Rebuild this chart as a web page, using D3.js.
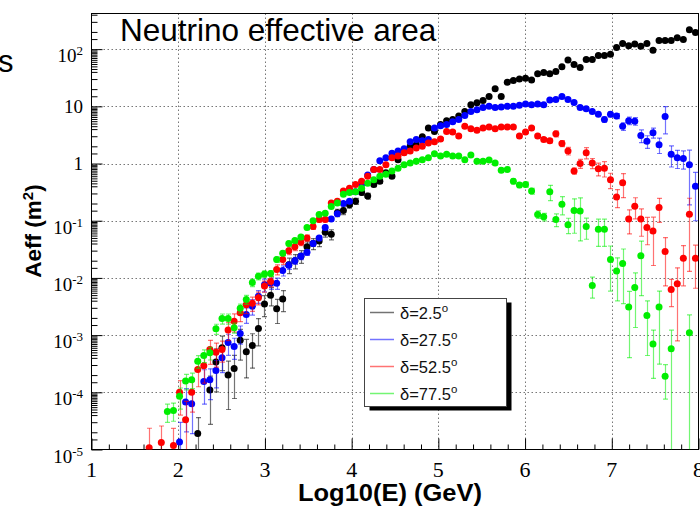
<!DOCTYPE html>
<html><head><meta charset="utf-8">
<script src="https://cdn.jsdelivr.net/npm/d3@7"></script>
<style>body{margin:0;background:#fff;} svg{display:block;}</style>
</head><body>
<svg id="c" width="700" height="506"></svg>
<script>
// ---------- DATA ----------
const logE = [1.665,1.735,1.805,1.875,1.945,2.015,2.085,2.155,2.225,2.295,
 2.365,2.435,2.505,2.575,2.645,2.715,2.785,2.855,2.925,2.995,
 3.065,3.135,3.205,3.275,3.345,3.415,3.485,3.555,3.625,3.695,
 3.765,3.835,3.905,3.975,4.045,4.115,4.185,4.255,4.325,4.395,
 4.465,4.535,4.605,4.675,4.745,4.815,4.885,4.955,5.025,5.095,
 5.165,5.235,5.305,5.375,5.445,5.515,5.585,5.655,5.725,5.795,
 5.865,5.935,6.005,6.075,6.145,6.215,6.285,6.355,6.425,6.495,
 6.565,6.635,6.705,6.775,6.845,6.915,6.985,7.055,7.125,7.195,
 7.265,7.335,7.405,7.475,7.545,7.615,7.685,7.755,7.825,7.895,
 7.965];

const aeffDec2_5 = [null,null,null,null,null,null,null,null,1.9e-5,null,
 1.1e-4,3.4e-4,6.0e-4,2.0e-4,2.6e-4,8.1e-4,5.1e-4,6.6e-4,1.3e-3,3.5e-3,
 5.0e-3,2.9e-3,4.3e-3,1.7e-2,2.0e-2,2.4e-2,3.5e-2,4.0e-2,4.4e-2,6.3e-2,
 5.8e-2,0.138,0.151,0.19,0.22,0.31,0.27,0.43,0.49,0.69,
 0.60,1.17,1.58,2.0,2.14,2.95,4.17,3.63,4.79,5.62,
 5.89,6.76,8.13,10.7,11.5,12.6,14.8,20.4,14.8,26.3,
 28.2,30.2,30.9,28.8,37.2,38.9,37.2,40.7,49.0,64.6,
 53.7,47.9,66.1,66.1,77.6,77.6,81.3,107,126,115,
 123,112,126,95.5,141,141,141,158,148,219,
 195];
const errDec2_5 = [null,null,null,null,null,null,null,null,0.9,null,
 0.75,0.7,0.6,0.75,0.7,0.55,0.65,0.6,0.5,0.4,
 0.35,0.45,0.4,0.3,0.28,0.25,0.22,0.22,0.2,0.18,
 0.2,0.15,0.15,0.13,0.12,0.1,0.12,0.08,0.08,0.06,
 0.07,0.05,0.05,0.05,0.04,0.04,0.04,0.04,0.04,0.04,
 0.03,0.03,0.03,0.03,0.03,0.03,0.03,0.03,0.03,0.03,
 0.03,0.03,0.03,0.03,0.03,0.03,0.03,0.03,0.03,0.03,
 0.03,0.03,0.03,0.03,0.03,0.03,0.03,0.03,0.03,0.03,
 0.03,0.03,0.03,0.03,0.03,0.03,0.03,0.03,0.03,0.03,
 0.03];

const aeffDec27_5 = [null,null,null,null,null,1.35e-5,6.8e-5,6.3e-5,null,1.55e-4,
 1.66e-4,2.4e-4,4.0e-4,7.4e-4,6.3e-4,1.07e-3,2.3e-3,3.2e-3,4.8e-3,7.6e-3,
 8.1e-3,8.1e-3,1.35e-2,1.66e-2,2.0e-2,2.4e-2,2.8e-2,4.0e-2,5.0e-2,7.6e-2,
 0.107,0.132,0.20,0.22,0.32,0.44,0.63,0.79,1.12,1.26,
 1.51,1.66,1.82,2.40,2.63,2.51,2.63,4.17,4.57,4.79,
 5.37,5.89,6.92,8.13,8.71,9.55,10.0,9.55,9.77,10.0,
 10.0,10.5,11.0,10.7,11.0,10.7,12.9,13.2,14.8,13.2,
 11.7,9.55,9.12,8.13,7.24,5.89,7.24,6.76,4.47,5.62,
 5.50,3.09,2.45,3.47,2.14,6.61,1.45,1.26,1.23,0.95,
 0.40];
const errDec27_5 = [null,null,null,null,null,1.2,0.7,0.7,null,0.6,
 0.55,0.5,0.45,0.4,0.4,0.35,0.3,0.3,0.25,0.25,
 0.22,0.22,0.2,0.15,0.14,0.13,0.12,0.11,0.1,0.09,
 0.08,0.08,0.05,0.05,0.05,0.05,0.05,0.05,0.05,0.05,
 0.05,0.05,0.05,0.05,0.05,0.05,0.05,0.05,0.05,0.05,
 0.05,0.05,0.04,0.04,0.04,0.04,0.04,0.04,0.04,0.04,
 0.04,0.04,0.04,0.04,0.04,0.04,0.04,0.04,0.04,0.04,
 0.04,0.04,0.04,0.04,0.08,0.1,0.1,0.1,0.15,0.15,
 0.15,0.25,0.25,0.2,0.3,0.5,0.4,0.35,0.35,0.8,
 0.75];

const aeffDec52_5 = [1.07e-5,null,1.32e-5,null,1.17e-5,1.0e-4,3.3e-5,1.0e-4,2.5e-4,2.9e-4,
 5.6e-4,5.0e-4,5.6e-4,1.23e-3,1.74e-3,2.45e-3,3.4e-3,3.6e-3,4.5e-3,7.2e-3,
 8.7e-3,1.41e-2,2.1e-2,3.0e-2,3.5e-2,4.2e-2,5.0e-2,7.9e-2,0.105,0.105,
 0.204,0.22,0.33,0.37,0.43,0.49,0.60,0.79,0.79,0.95,
 1.26,1.35,1.55,1.66,1.86,2.0,2.29,2.40,2.69,3.63,
 3.55,3.02,4.47,4.07,3.80,4.17,4.37,4.07,4.37,4.37,
 4.37,3.02,3.55,4.17,3.02,2.63,2.51,3.31,2.24,1.66,
 0.74,1.0,1.55,1.02,0.81,0.83,0.52,0.26,0.46,0.107,
 0.18,0.107,0.076,0.066,0.17,0.029,0.0063,0.0079,0.022,0.13,
 0.022];
const errDec52_5 = [1.2,null,0.95,null,1.0,0.6,1.1,0.55,0.5,0.5,
 0.45,0.45,0.4,0.35,0.35,0.3,0.3,0.28,0.25,0.22,
 0.2,0.2,0.18,0.15,0.14,0.13,0.12,0.11,0.1,0.09,
 0.08,0.08,0.05,0.05,0.05,0.05,0.05,0.05,0.05,0.05,
 0.05,0.05,0.05,0.05,0.05,0.05,0.05,0.05,0.05,0.05,
 0.05,0.05,0.04,0.04,0.04,0.04,0.04,0.04,0.04,0.04,
 0.04,0.04,0.04,0.04,0.06,0.08,0.08,0.12,0.12,0.15,
 0.12,0.18,0.22,0.2,0.25,0.3,0.3,0.35,0.45,0.45,
 0.4,0.5,0.5,0.75,0.45,0.75,0.5,0.9,0.67,0.9,
 0.7];

const aeffDec77_5 = [null,null,null,4.6e-5,4.8e-5,8.5e-5,1.58e-4,1.66e-4,3.5e-4,4.4e-4,
 4.9e-4,1.29e-3,1.95e-3,1.95e-3,1.35e-3,2.95e-3,4.2e-3,8.3e-3,1.07e-2,1.17e-2,
 1.2e-2,2.1e-2,2.7e-2,4.0e-2,4.5e-2,5.2e-2,7.6e-2,0.10,0.129,0.135,
 0.178,0.204,0.29,0.31,0.32,0.37,0.45,0.52,0.60,0.65,
 0.74,0.83,0.95,1.02,1.10,1.17,1.26,1.48,1.35,1.45,
 1.35,1.35,1.17,1.41,1.10,1.10,1.15,1.02,0.76,0.79,
 0.49,0.42,0.43,0.33,0.129,0.117,0.32,0.105,0.195,0.085,
 0.151,0.148,0.079,0.0074,0.071,0.071,0.021,0.0132,0.0178,0.0031,
 0.0068,0.0245,0.0022,0.0007,0.0031,0.00019,0.00058,null,null,0.0011,
 null];
const errDec77_5 = [null,null,null,0.35,0.35,0.4,0.3,0.3,0.25,0.25,
 0.25,0.2,0.2,0.2,0.2,0.18,0.18,0.15,0.14,0.13,
 0.12,0.11,0.1,0.09,0.09,0.08,0.08,0.05,0.05,0.05,
 0.05,0.05,0.05,0.05,0.05,0.05,0.05,0.05,0.05,0.05,
 0.05,0.05,0.04,0.04,0.04,0.04,0.04,0.04,0.04,0.04,
 0.04,0.04,0.04,0.04,0.04,0.04,0.04,0.04,0.08,0.08,
 0.1,0.1,0.1,0.12,0.15,0.15,0.3,0.25,0.35,0.3,
 0.6,0.7,0.4,0.4,0.5,0.5,0.72,0.7,0.8,0.87,
 0.8,0.8,0.8,0.75,0.9,0.6,1.1,null,null,1.05,
 null];

const seriesLabels = ["δ=2.5","δ=27.5","δ=52.5","δ=77.5"];
const seriesValues = [aeffDec2_5, aeffDec27_5, aeffDec52_5, aeffDec77_5];
const seriesErrors = [errDec2_5, errDec27_5, errDec52_5, errDec77_5];
const seriesColors = ["#000000","#0000ff","#ff0000","#00ee00"];

const xTicks = [1,2,3,4,5,6,7,8];
const yTicks = [1e-5,1e-4,1e-3,1e-2,1e-1,1,10,100];
const yTickLabels = [["10","-5"],["10","-4"],["10","-3"],["10","-2"],["10","-1"],["1",""],["10",""],["10","2"]];
const xDomain = [1, 8];
const yDomain = [1e-5, 420];

// ---------- LAYOUT ----------
const X0 = 91.5, X1 = 698.5, Y0 = 449.5, Y1 = 13.5;
const svg = d3.select("#c");
const x = d3.scaleLinear().domain(xDomain).range([X0, X1]);
const y = d3.scaleLog().domain(yDomain).range([Y0, Y1]);
const SANS = "'Liberation Sans', Arial, Helvetica, sans-serif";
const SERIF = "'Liberation Serif', 'Times New Roman', serif";

svg.append("rect").attr("width",700).attr("height",506).attr("fill","#fff");

svg.append("defs").append("clipPath").attr("id","clip")
  .append("rect").attr("x",X0).attr("y",Y1).attr("width",X1-X0).attr("height",Y0-Y1);

// grid
const grid = svg.append("g").attr("stroke","#777").attr("stroke-width",1).attr("stroke-dasharray","1.5,2.5");
grid.selectAll("line.gx").data(xTicks.slice(1,-1)).join("line")
  .attr("x1",d=>Math.round(x(d))+0.5).attr("x2",d=>Math.round(x(d))+0.5).attr("y1",Y1).attr("y2",Y0);
grid.selectAll("line.gy").data(yTicks.slice(1)).join("line")
  .attr("y1",d=>Math.round(y(d))+0.5).attr("y2",d=>Math.round(y(d))+0.5).attr("x1",X0).attr("x2",X1);

// ticks (inward, ROOT style)
const yMinor = [];
yTicks.concat([1000]).forEach(dec=>{
  [1.5,2,3,4,4.5,5,5.5,6,6.5,7,7.5,8,8.5,9,9.5].forEach(k=>{
    const v = dec*k; if (v < yDomain[1]) yMinor.push(v);
  });
});
const xMinor = [];
for (let a = 1; a < 8; a++) [0.2,0.4,0.6,0.8].forEach(f=>xMinor.push(a+f));

function styleAxis(g){ g.select(".domain").remove(); g.selectAll("line").attr("stroke","#000"); }
svg.append("g").attr("transform",`translate(${X0},0)`)
  .call(d3.axisRight(y).tickValues(yTicks).tickSize(11).tickFormat(""))
  .call(styleAxis);
svg.append("g").attr("transform",`translate(${X0},0)`)
  .call(d3.axisRight(y).tickValues(yMinor).tickSize(6).tickFormat(""))
  .call(styleAxis);
svg.append("g").attr("transform",`translate(0,${Y0})`)
  .call(d3.axisTop(x).tickValues(xTicks).tickSize(11).tickFormat(""))
  .call(styleAxis);
svg.append("g").attr("transform",`translate(0,${Y0})`)
  .call(d3.axisTop(x).tickValues(xMinor).tickSize(5).tickFormat(""))
  .call(styleAxis);

// frame
svg.append("rect").attr("x",X0).attr("y",Y1).attr("width",X1-X0).attr("height",Y0-Y1)
  .attr("fill","none").attr("stroke","#000").attr("stroke-width",1);

// y tick labels
yTicks.forEach((v,k)=>{
  const [base, ex] = yTickLabels[k];
  const t = svg.append("text").attr("x",83).attr("y", y(v) + (ex ? 13 : 6.5))
    .attr("text-anchor","end").attr("font-family",SERIF).attr("font-size",19).attr("fill","#000");
  t.append("tspan").text(base);
  if (ex) t.append("tspan").attr("dy",-7).attr("font-size",13).text(ex);
});
// x tick labels
svg.selectAll("text.xl").data(xTicks).join("text")
  .attr("x",d=>x(d)).attr("y",477).attr("text-anchor","middle")
  .attr("font-family",SERIF).attr("font-size",22).attr("fill","#000").text(d=>d);

// axis titles
svg.append("text").attr("x",390).attr("y",501).attr("text-anchor","middle")
  .attr("font-family",SANS).attr("font-weight","bold").attr("font-size",23)
  .attr("textLength",184).attr("lengthAdjust","spacingAndGlyphs").text("Log10(E) (GeV)");
const yl = svg.append("text").attr("transform","translate(41,231) rotate(-90)").attr("text-anchor","middle")
  .attr("font-family",SANS).attr("font-weight","bold").attr("font-size",22.5);
yl.append("tspan").text("Aeff (m");
yl.append("tspan").attr("dy",-8).attr("font-size",15).text("2");
yl.append("tspan").attr("dy",8).text(")");

// title and stray text
svg.append("text").attr("x",120).attr("y",41).attr("font-family",SANS).attr("font-size",31.5).text("Neutrino effective area");
svg.append("text").attr("x",-2).attr("y",72).attr("font-family",SANS).attr("font-size",31).text("s");

// data
const plot = svg.append("g").attr("clip-path","url(#clip)");
seriesValues.forEach((vals, s)=>{
  const pts = [];
  vals.forEach((v,j)=>{ if (v != null) pts.push({x: logE[j], y: v, r: seriesErrors[s][j]}); });
  const col = seriesColors[s];
  const g = plot.append("g");
  const eb = g.append("g").attr("stroke",col).attr("stroke-opacity",0.55).attr("stroke-width",1.2);
  pts.forEach(p=>{
    if (p.r == null) return;
    const px = Math.round(x(p.x))+0.5;
    const hi = p.y*(1+p.r), lo = p.y*(1-p.r);
    const yHi = y(Math.min(hi, yDomain[1]));
    const yLo = lo > yDomain[0] ? y(lo) : Y0;
    eb.append("line").attr("x1",px).attr("x2",px).attr("y1",yHi).attr("y2",yLo);
    eb.append("line").attr("x1",px-2.5).attr("x2",px+2.5).attr("y1",yHi).attr("y2",yHi);
    if (lo > yDomain[0]) eb.append("line").attr("x1",px-2.5).attr("x2",px+2.5).attr("y1",yLo).attr("y2",yLo);
  });
  g.selectAll("circle").data(pts).join("circle")
    .attr("cx",d=>x(d.x)).attr("cy",d=>y(d.y)).attr("r",3.5).attr("fill",col);
});

// legend
const LX = 364.5, LY = 298.5, LW = 142, LH = 108;
svg.append("rect").attr("x",LX+5).attr("y",LY+4).attr("width",LW).attr("height",LH).attr("fill","#000");
svg.append("rect").attr("x",LX).attr("y",LY).attr("width",LW).attr("height",LH).attr("fill","#fff").attr("stroke","#444").attr("stroke-width",1);
const rowsY = [312.5, 339.5, 366.5, 393.5];
seriesLabels.forEach((lab,k)=>{
  svg.append("line").attr("x1",370).attr("x2",394).attr("y1",rowsY[k]).attr("y2",rowsY[k])
    .attr("stroke",seriesColors[k]).attr("stroke-opacity",0.55).attr("stroke-width",1.5);
  const t = svg.append("text").attr("x",400).attr("y",rowsY[k]+6).attr("font-family",SANS).attr("font-size",16.5).attr("fill","#111");
  t.append("tspan").text(lab);
  t.append("tspan").attr("dy",-7).attr("font-size",11.5).text("o");
});
</script>
</body></html>
